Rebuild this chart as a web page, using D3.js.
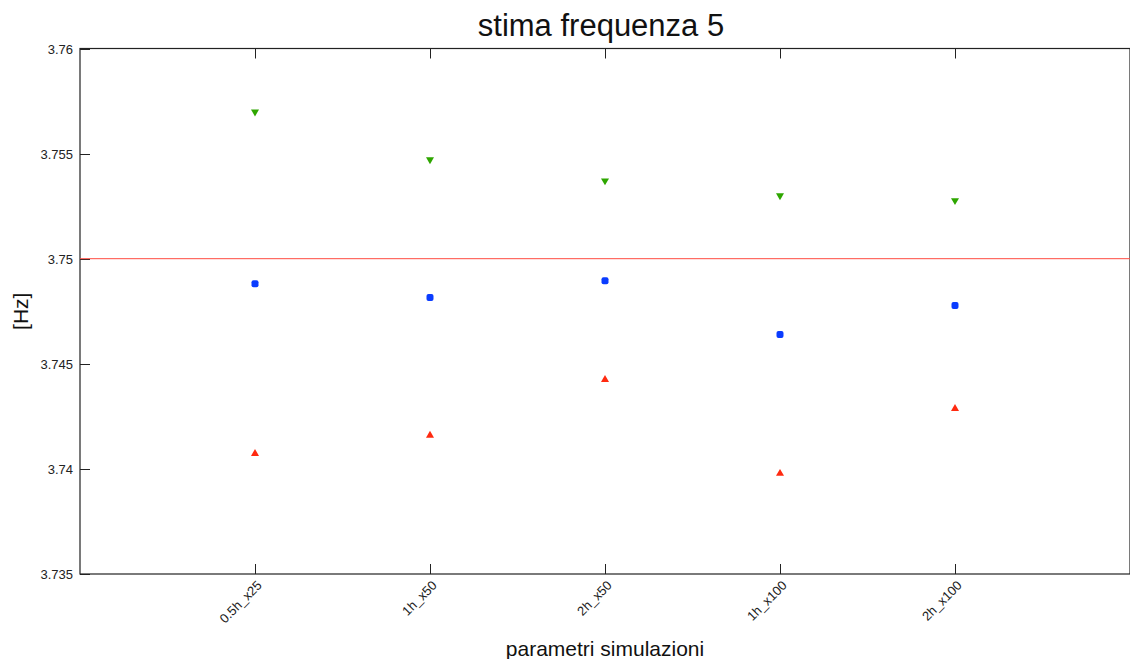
<!DOCTYPE html>
<html>
<head>
<meta charset="utf-8">
<script src="https://cdn.jsdelivr.net/npm/d3@7"></script>
<style>
  body { margin: 0; background: #fff; }
  svg { display: block; font-family: "Liberation Sans", Arial, sans-serif; }
</style>
</head>
<body>
<svg id="chart" width="1130" height="659"></svg>
<script>
// --- data ---
const categories = ["0.5h_x25", "1h_x50", "2h_x50", "1h_x100", "2h_x100"];
const upperValues = [3.75699, 3.75471, 3.75371, 3.75300, 3.75277];
const meanValues = [3.74881, 3.74815, 3.74895, 3.74639, 3.74777];
const lowerValues = [3.74073, 3.74159, 3.74425, 3.73978, 3.74287];
const refValue = 3.75;
const yTicks = [3.735, 3.74, 3.745, 3.75, 3.755, 3.76];

const svg = d3.select("#chart");
const m = { left: 80, top: 48.5, right: 0, bottom: 85 };
const W = 1130, H = 659;
const x0 = m.left, x1 = W - m.right, y0 = m.top, y1 = H - m.bottom;

const x = d3.scaleLinear().domain([0, categories.length + 1]).range([x0, x1]);
const y = d3.scaleLinear().domain([3.735, 3.76]).range([y1, y0]);

// frame
svg.append("rect").attr("x", x0).attr("y", y0).attr("width", x1 - x0).attr("height", y1 - y0)
  .attr("fill", "none").attr("stroke", "#222").attr("stroke-width", 1.2);

// y ticks
const yAxis = svg.append("g");
yTicks.forEach(t => {
  const yy = Math.round(y(t)) + 0.5;
  yAxis.append("line").attr("x1", x0).attr("x2", x0 + 10).attr("y1", yy).attr("y2", yy).attr("stroke", "#222");
  yAxis.append("text").attr("x", x0 - 7).attr("y", yy).attr("dy", "0.35em").attr("text-anchor", "end")
    .attr("font-size", 13).attr("fill", "#222").text(d3.format("")(t));
});

// x ticks (bottom + top mirror)
categories.forEach((c, i) => {
  const xx = Math.round(x(i + 1)) + 0.5;
  svg.append("line").attr("x1", xx).attr("x2", xx).attr("y1", y1).attr("y2", y1 - 10).attr("stroke", "#222");
  svg.append("line").attr("x1", xx).attr("x2", xx).attr("y1", y0).attr("y2", y0 + 10).attr("stroke", "#222");
  svg.append("text")
    .attr("transform", `translate(${xx + 4},${y1 + 9}) rotate(-45)`)
    .attr("text-anchor", "end").attr("dy", "0.35em")
    .attr("font-size", 13).attr("fill", "#222").text(c);
});

// reference line
svg.append("line").attr("x1", x0).attr("x2", x1).attr("y1", y(refValue)).attr("y2", y(refValue))
  .attr("stroke", "#ff4a40").attr("stroke-width", 1);

// markers
const tri = d3.symbol().type(d3.symbolTriangle).size(28);
svg.append("g").selectAll("path").data(upperValues).join("path")
  .attr("d", tri)
  .attr("transform", (d, i) => `translate(${x(i + 1)},${y(d)}) rotate(180)`)
  .attr("fill", "#2ea600");

svg.append("g").selectAll("rect").data(meanValues).join("rect")
  .attr("x", (d, i) => x(i + 1) - 3.5).attr("y", d => y(d) - 3.5)
  .attr("width", 7).attr("height", 7).attr("rx", 2)
  .attr("fill", "#0a3cff");

svg.append("g").selectAll("path").data(lowerValues).join("path")
  .attr("d", tri)
  .attr("transform", (d, i) => `translate(${x(i + 1)},${y(d)})`)
  .attr("fill", "#ff2a10");

// titles
svg.append("text").attr("x", 601).attr("y", 36).attr("text-anchor", "middle")
  .attr("font-size", 31).attr("fill", "#111").text("stima frequenza 5");
svg.append("text").attr("x", 605).attr("y", 656).attr("text-anchor", "middle")
  .attr("font-size", 21).attr("fill", "#111").text("parametri simulazioni");
svg.append("text").attr("transform", `translate(28,${(y0 + y1) / 2}) rotate(-90)`)
  .attr("text-anchor", "middle").attr("font-size", 21).attr("fill", "#111").text("[Hz]");
</script>
</body>
</html>
